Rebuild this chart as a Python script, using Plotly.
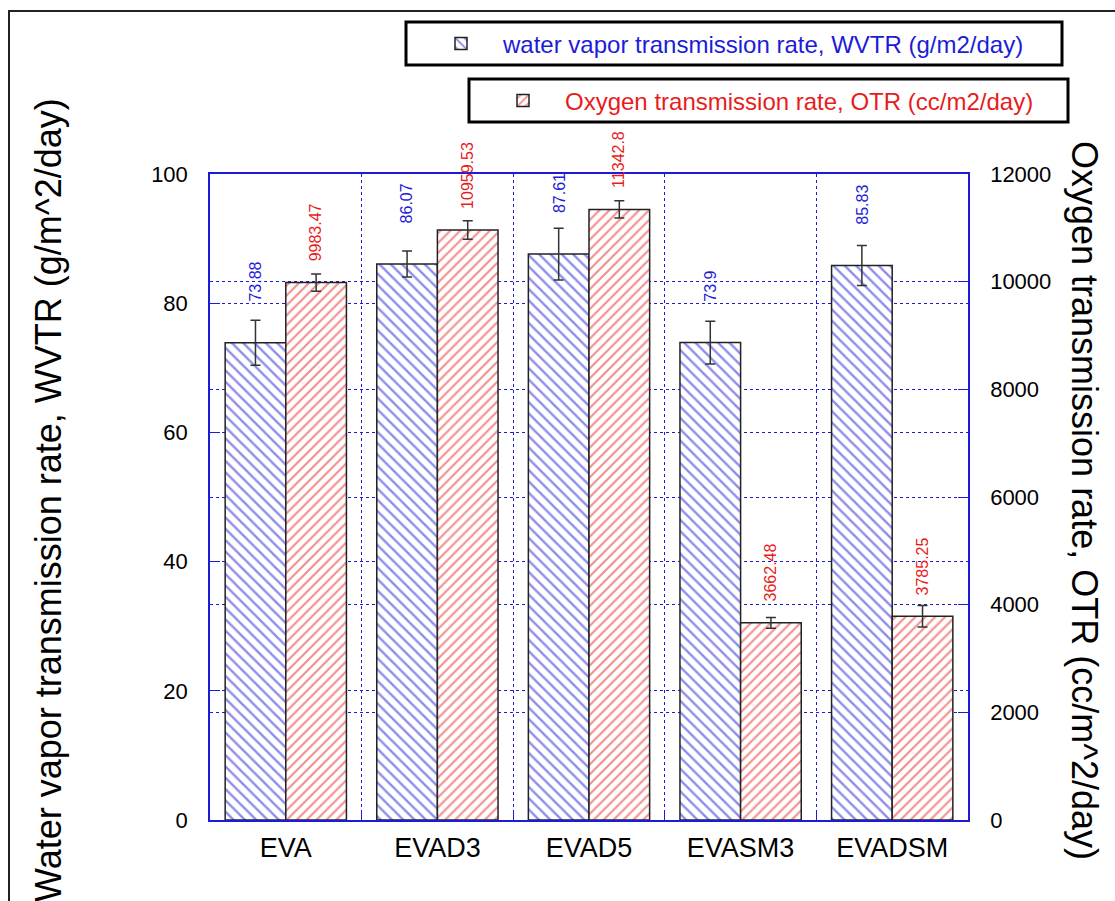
import plotly.graph_objects as go

categories = ["EVA", "EVAD3", "EVAD5", "EVASM3", "EVADSM"]
wvtr = [73.88, 86.07, 87.61, 73.9, 85.83]
wvtr_err = [3.5, 2.0, 4.0, 3.3, 3.1]
otr = [9983.47, 10959.53, 11342.8, 3662.48, 3785.25]
otr_err = [160, 170, 160, 100, 200]

wvtr_name = "water vapor transmission rate, WVTR (g/m2/day)"
otr_name = "Oxygen transmission rate, OTR (cc/m2/day)"
left_title = "Water vapor transmission rate, WVTR (g/m^2/day)"
right_title = "Oxygen transmission rate, OTR (cc/m^2/day)"

left_ticks = [0, 20, 40, 60, 80, 100]
right_ticks = [0, 2000, 4000, 6000, 8000, 10000, 12000]

BLUE = "#1c1cd8"
RED = "#e81c1c"
FONT = "Arial, Liberation Sans, sans-serif"
W, H = 1115, 901
L, R, T, B = 210, 147, 174, 81
PW, PH = W - L - R, H - T - B


def px(x):
    return (x - L) / PW


def py(y):
    return (H - B - y) / PH


fig = go.Figure()
fig.add_trace(go.Bar(
    x=categories, y=wvtr, name=wvtr_name, yaxis="y", offsetgroup="a",
    legend="legend", showlegend=True,
    marker=dict(color="white", line=dict(color="#222222", width=1.5),
                pattern=dict(shape="\\", fgcolor=BLUE, bgcolor="white",
                             size=8, solidity=0.3)),
    error_y=dict(type="data", array=wvtr_err, color="#333333",
                 thickness=1.5, width=5),
))
fig.add_trace(go.Bar(
    x=categories, y=otr, name=otr_name, yaxis="y2", offsetgroup="b",
    legend="legend2", showlegend=True,
    marker=dict(color="white", line=dict(color="#222222", width=1.5),
                pattern=dict(shape="/", fgcolor=RED, bgcolor="white",
                             size=7, solidity=0.3)),
    error_y=dict(type="data", array=otr_err, color="#333333",
                 thickness=1.5, width=5),
))

annotations = []
for c, v in zip(categories, wvtr):
    annotations.append(dict(x=c, y=v, xref="x", yref="y", text=str(v),
                            showarrow=False, textangle=-90, xshift=-30,
                            yshift=39, yanchor="bottom", xanchor="center",
                            font=dict(family=FONT, size=16, color=BLUE)))
for c, v in zip(categories, otr):
    annotations.append(dict(x=c, y=v, xref="x", yref="y2", text=str(v),
                            showarrow=False, textangle=-90, xshift=30,
                            yshift=19, yanchor="bottom", xanchor="center",
                            font=dict(family=FONT, size=16, color=RED)))
annotations.append(dict(x=px(48), y=py(500), xref="paper", yref="paper",
                        text=left_title, showarrow=False, textangle=-90,
                        xanchor="center", yanchor="middle",
                        font=dict(family=FONT, size=36, color="black")))
annotations.append(dict(x=px(1085), y=py(500), xref="paper", yref="paper",
                        text=right_title, showarrow=False, textangle=90,
                        xanchor="center", yanchor="middle",
                        font=dict(family=FONT, size=36, color="black")))

shapes = [
    dict(type="rect", xref="paper", yref="paper", x0=px(9), x1=px(1125),
         y0=py(11), y1=py(920), line=dict(color="#222222", width=2)),
    dict(type="rect", xref="paper", yref="paper", x0=px(406), x1=px(1062),
         y0=py(22), y1=py(65), line=dict(color="black", width=3),
         fillcolor="white", layer="below"),
    dict(type="rect", xref="paper", yref="paper", x0=px(469), x1=px(1068),
         y0=py(79), y1=py(122), line=dict(color="black", width=3),
         fillcolor="white", layer="below"),
]

axis_common = dict(showline=True, linecolor=BLUE, linewidth=1.5,
                   showgrid=True, gridcolor=BLUE, griddash="dot", gridwidth=1,
                   zeroline=False, ticks="inside", ticklen=10, tickcolor=BLUE,
                   tickformat="d",
                   tickfont=dict(family=FONT, size=22, color="black"))

fig.update_layout(
    width=W, height=H,
    margin=dict(l=L, r=R, t=T, b=B, pad=0, autoexpand=False),
    paper_bgcolor="white", plot_bgcolor="white",
    showlegend=True,
    barmode="group", bargap=0.2, bargroupgap=0,
    xaxis=dict(showline=True, linecolor=BLUE, linewidth=1.5, mirror=True,
               showgrid=True, gridcolor=BLUE, griddash="dot", gridwidth=1,
               tickson="boundaries", ticks="inside", ticklen=8, tickcolor=BLUE,
               ticklabelstandoff=3,
               tickfont=dict(family=FONT, size=27, color="black")),
    yaxis=dict(range=[0, 100], tickvals=left_ticks, ticklabelstandoff=16,
               **axis_common),
    yaxis2=dict(range=[0, 12000], tickvals=right_ticks, overlaying="y",
                side="right", ticklabelstandoff=16, **axis_common),
    legend=dict(x=px(419), y=py(44), xanchor="left", yanchor="middle",
                bgcolor="rgba(0,0,0,0)", borderwidth=0, itemwidth=74,
                visible=True,
                font=dict(family=FONT, size=24, color=BLUE)),
    legend2=dict(x=px(481), y=py(101), xanchor="left", yanchor="middle",
                 bgcolor="rgba(0,0,0,0)", borderwidth=0, itemwidth=74,
                 visible=True,
                 font=dict(family=FONT, size=24, color=RED)),
    annotations=annotations,
    shapes=shapes,
)

fig.write_html("out.html")
